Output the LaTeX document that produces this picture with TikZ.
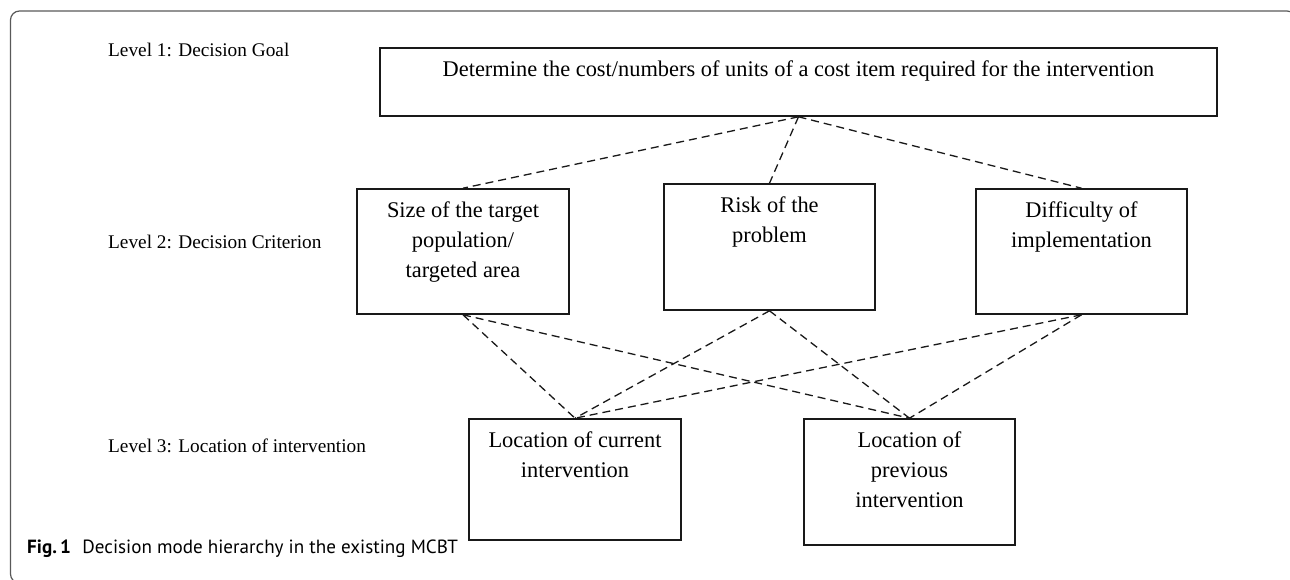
\documentclass[tikz,border=0pt]{standalone}
\usepackage{fontspec}
\setmainfont{Liberation Serif}
\newfontfamily\capfont{PT Sans}
\usetikzlibrary{positioning}
\newcommand{\critw}{211}
\newcommand{\crith}{125}
\newcommand{\linecolor}{black!90!white}
\newcommand{\framecolor}{black!65!white}

\begin{document}
\begin{tikzpicture}[x=1pt, y=-1pt,
    crit/.style={draw=\linecolor, line width=1.6pt, inner sep=0pt, minimum width=\critw pt, minimum height=\crith pt},
    boxtext/.style={align=center, inner sep=0pt, anchor=north, font=\fontsize{22.4}{30}\selectfont},
    levtext/.style={anchor=west, inner sep=0pt, font=\fontsize{19.3}{23}\selectfont},
    link/.style={dash pattern=on 8pt off 5pt, line width=1.3pt, draw=\linecolor}]
    \useasboundingbox (0, 0) rectangle (1290, 580);

    % frame
    \begin{scope}
    \clip (0, 0) rectangle (1290, 580);
    \draw[\framecolor, line width=1.2pt, rounded corners=9pt] (40, 583) -- (10.5, 583) -- (10.5, 11) -- (1296, 11) -- (1296, 40);
    \end{scope}

    % level names
    \node [levtext] (lev1) at (108, 50) {Level 1: Decision Goal};
    \node [levtext] (lev2) at (108, 242) {Level 2: Decision Criterion};
    \node [levtext] (lev3) at (108, 446) {Level 3: Location of intervention};

    % boxes
    \node [crit, minimum width=837pt, minimum height=68pt] (goal) at (798.5, 82) {};
    \node [crit, minimum width=212pt] (size) at (463, 251.5) {};
    \node [crit, minimum height=126pt] (risk) at (769.5, 247) {};
    \node [crit] (diff) at (1081.5, 251.5) {};
    \node [crit, minimum width=212pt, minimum height=121pt] (current) at (575, 479.5) {};
    \node [crit, minimum height=126pt] (previous) at (909.5, 482) {};

    % box texts
    \node [boxtext, below=13pt of goal.north] (goaltxt) {Determine the cost/numbers of units of a cost item required for the intervention};
    \node [boxtext, below=13pt of size.north] (sizetxt) {Size of the target\\population/\\targeted area};
    \node [boxtext, below=13pt of risk.north] (risktxt) {Risk of the\\problem};
    \node [boxtext, below=13pt of diff.north] (difftxt) {Difficulty of\\implementation};
    \node [boxtext, below=13pt of current.north] (currenttxt) {Location of current\\intervention};
    \node [boxtext, below=13pt of previous.north] (previoustxt) {Location of\\previous\\intervention};

    % dashed links
    \foreach \c in {size, risk, diff} {
        \draw [link] (goal.south) -- (\c.north);
        \foreach \l in {current, previous}
            \draw [link] (\c.south) -- (\l.north);
    }

    % caption
    \node [anchor=base west, inner sep=0pt, font=\capfont\fontsize{19.1}{23}\selectfont] (caption) at (27, 553) {\textbf{Fig.\,1}\hspace{0.6em}Decision mode hierarchy in the existing MCBT};
\end{tikzpicture}
\end{document}
